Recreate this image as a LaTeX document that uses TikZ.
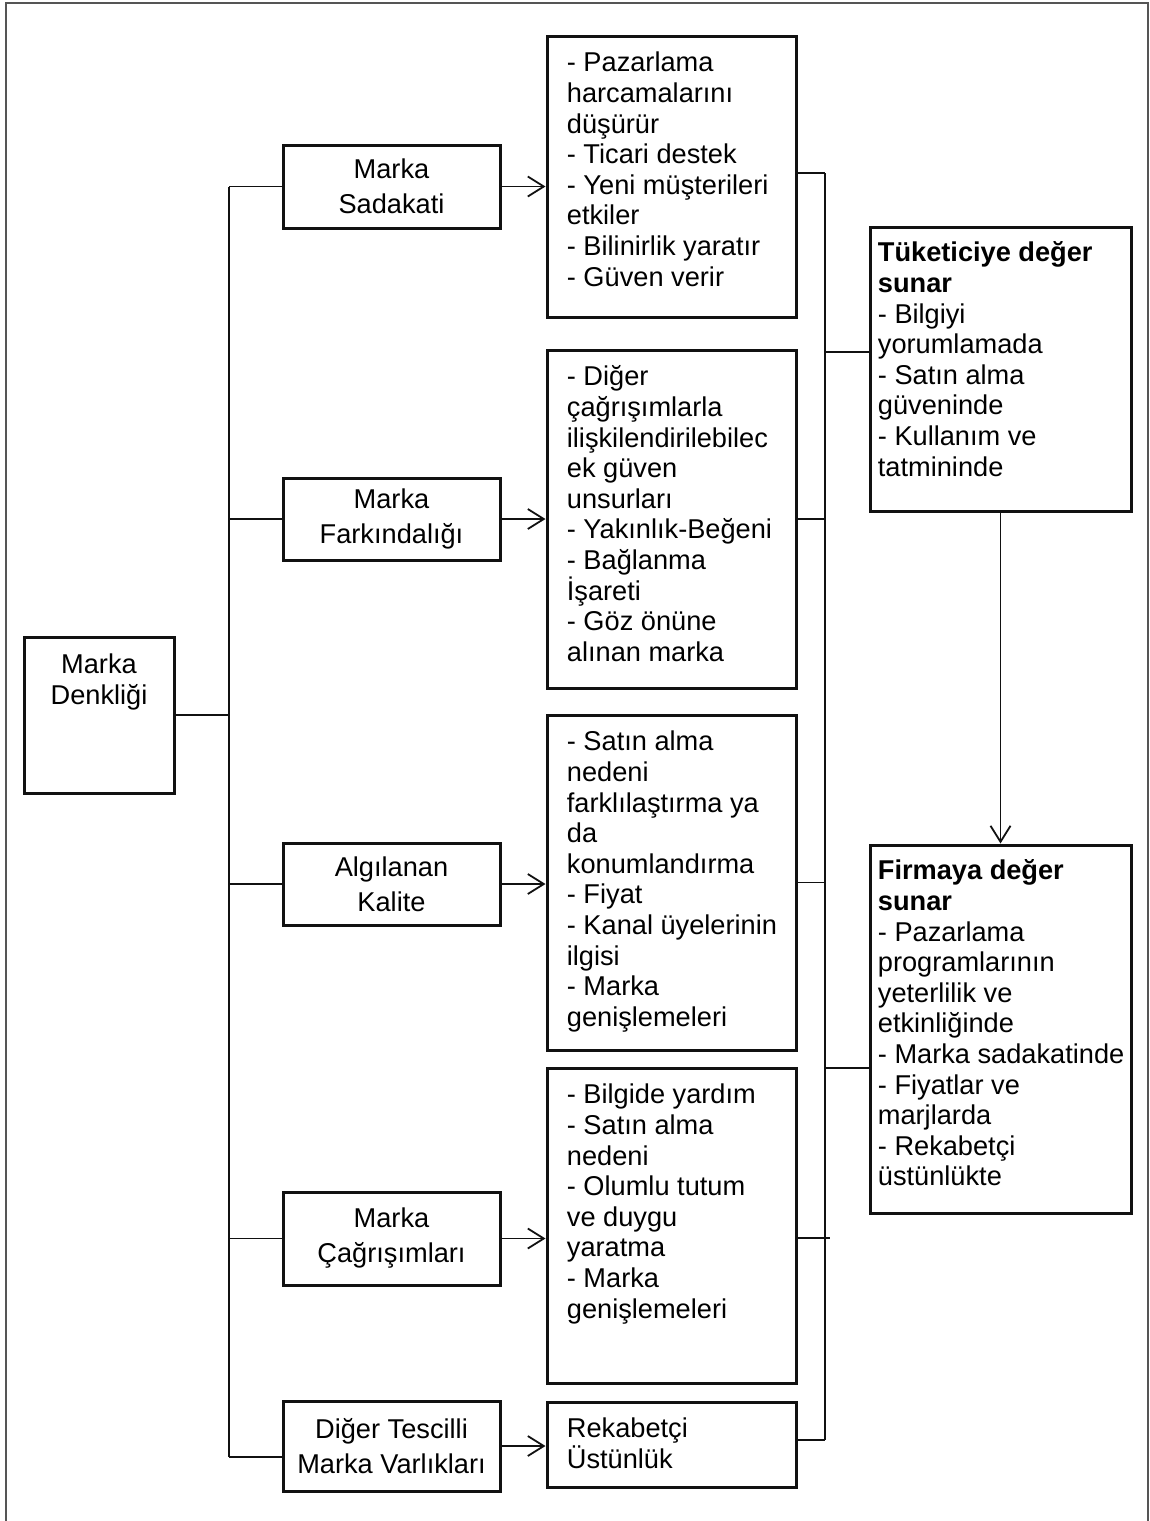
\documentclass[tikz,border=0pt]{standalone}
\usepackage{fontspec}
\setmainfont{Liberation Sans}
\usetikzlibrary{positioning,calc,arrows.meta}
\definecolor{FrameGray}{HTML}{555555}
\definecolor{LineDark}{HTML}{111111}
\newcommand{\firstrow}{\rule{0pt}{12pt}}

\begin{document}
\begin{tikzpicture}[x=0.5pt, y=-0.5pt,
  box/.style={draw=LineDark, line width=1.5pt, inner sep=0pt},
  leftbox/.style={box, minimum width=108.5pt, align=center, font=\fontsize{13.6}{17.5}\selectfont},
  midbox/.style={box, minimum width=124.5pt},
  valbox/.style={box, minimum width=130.5pt},
  txt/.style={inner sep=0pt, anchor=north west, align=left, font=\fontsize{13.6}{15.3}\selectfont},
  trunk/.style={draw=LineDark, line width=1.3pt},
  link/.style={draw=LineDark, line width=0.9pt},
  arr/.style={link, -{Straight Barb[length=8pt,width=10pt]}}]
  \useasboundingbox (0,0) rectangle (1150,1521);

  % Outer frame (bottom edge runs off the page)
  \draw[color=FrameGray, line width=1pt] (6,1521) -- (6,3) -- (1148,3) -- (1148,1521);

  % Root box
  \node[box, minimum width=75pt, minimum height=78pt] (den) at (99,715) {};
  \node[txt, anchor=north, align=center] (dentxt) at ($(den.north)+(0,14)$) {\firstrow Marka\\Denkliği};

  % Second column: equity dimensions
  \node[leftbox, minimum height=41.5pt] (s1) at (391.5,186.5) {Marka\\Sadakati};
  \node[leftbox, minimum height=41pt]   (s2) at (391.5,519) {Marka\\Farkındalığı};
  \node[leftbox, minimum height=41pt]   (s3) at (391.5,884) {Algılanan\\Kalite};
  \node[leftbox, minimum height=46.5pt] (s4) at (391.5,1238.5) {Marka\\Çağrışımları};
  \node[leftbox, minimum height=45pt]   (s5) at (391.5,1446) {Diğer Tescilli\\Marka Varlıkları};

  % Third column: effects
  \node[midbox, minimum height=140.5pt] (d1) at (671.5,176.5) {};
  \node[txt] (d1txt) at ($(d1.north west)+(21,13)$) {\firstrow - Pazarlama\\harcamalarını\\düşürür\\- Ticari destek\\- Yeni müşterileri\\etkiler\\- Bilinirlik yaratır\\- Güven verir};

  \node[midbox, minimum height=169pt] (d2) at (671.5,519) {};
  \node[txt] (d2txt) at ($(d2.north west)+(21,13)$) {\firstrow - Diğer\\çağrışımlarla\\ilişkilendirilebilec\\ek güven\\unsurları\\- Yakınlık-Beğeni\\- Bağlanma\\İşareti\\- Göz önüne\\alınan marka};

  \node[midbox, minimum height=167.5pt] (d3) at (671.5,882.5) {};
  \node[txt] (d3txt) at ($(d3.north west)+(21,13)$) {\firstrow - Satın alma\\nedeni\\farklılaştırma ya\\da\\konumlandırma\\- Fiyat\\- Kanal üyelerinin\\ilgisi\\- Marka\\genişlemeleri};

  \node[midbox, minimum height=157.5pt] (d4) at (671.5,1225.5) {};
  \node[txt] (d4txt) at ($(d4.north west)+(21,13)$) {\firstrow - Bilgide yardım\\- Satın alma\\nedeni\\- Olumlu tutum\\ve duygu\\yaratma\\- Marka\\genişlemeleri};

  \node[midbox, minimum height=42.5pt] (d5) at (671.5,1444.5) {};
  \node[txt] (d5txt) at ($(d5.north west)+(21,13)$) {\firstrow Rekabetçi\\Üstünlük};

  % Right column: value delivered
  \node[valbox, minimum height=142pt] (tk) at (1000.5,369) {};
  \node[txt] (tktxt) at ($(tk.north west)+(9,12)$) {\firstrow\textbf{Tüketiciye değer}\\\textbf{sunar}\\- Bilgiyi\\yorumlamada\\- Satın alma\\güveninde\\- Kullanım ve\\tatmininde};

  \node[valbox, minimum height=184pt] (fr) at (1000.5,1029) {};
  \node[txt] (frtxt) at ($(fr.north west)+(9,12)$) {\firstrow\textbf{Firmaya değer}\\\textbf{sunar}\\- Pazarlama\\programlarının\\yeterlilik ve\\etkinliğinde\\- Marka sadakatinde\\- Fiyatlar ve\\marjlarda\\- Rekabetçi\\üstünlükte};

  % Left trunk
  \coordinate (tTop) at (229,187);
  \coordinate (tBot) at (229,1457);
  \draw[trunk] (tTop) -- (tBot);
  \draw[link] (den.east) -- (den.east -| tTop);
  \foreach \s in {s1,s2,s3,s4} {
    \draw[link] (\s.west -| tTop) -- (\s.west);
  }
  \draw[link] (tBot) -- (tBot -| s5.west);

  % Arrows into effect boxes
  \foreach \s/\d in {s1/d1,s2/d2,s3/d3,s4/d4,s5/d5} {
    \draw[arr] (\s.east) -- (\s.east -| \d.west);
  }

  % Right bus
  \coordinate (bTop) at (825,173);
  \coordinate (bBot) at (825,1440);
  \draw[trunk] (bTop) -- (bBot);
  \draw[link] (d1.east |- bTop) -- (bTop);
  \draw[link] (d2.east) -- (d2.east -| bTop);
  \draw[link] (d3.east) -- (d3.east -| bTop);
  \coordinate (b4) at (830,1238);
  \draw[link] (d4.east |- b4) -- (b4);
  \draw[link] (d5.east |- bBot) -- (bBot);

  % Bus to value boxes
  \coordinate (bTk) at (825,352);
  \coordinate (bFr) at (825,1068);
  \draw[link] (bTk) -- (bTk -| tk.west);
  \draw[link] (bFr) -- (bFr -| fr.west);

  % Consumer value feeds firm value
  \draw[arr] (tk.south) -- (fr.north);
\end{tikzpicture}
\end{document}
